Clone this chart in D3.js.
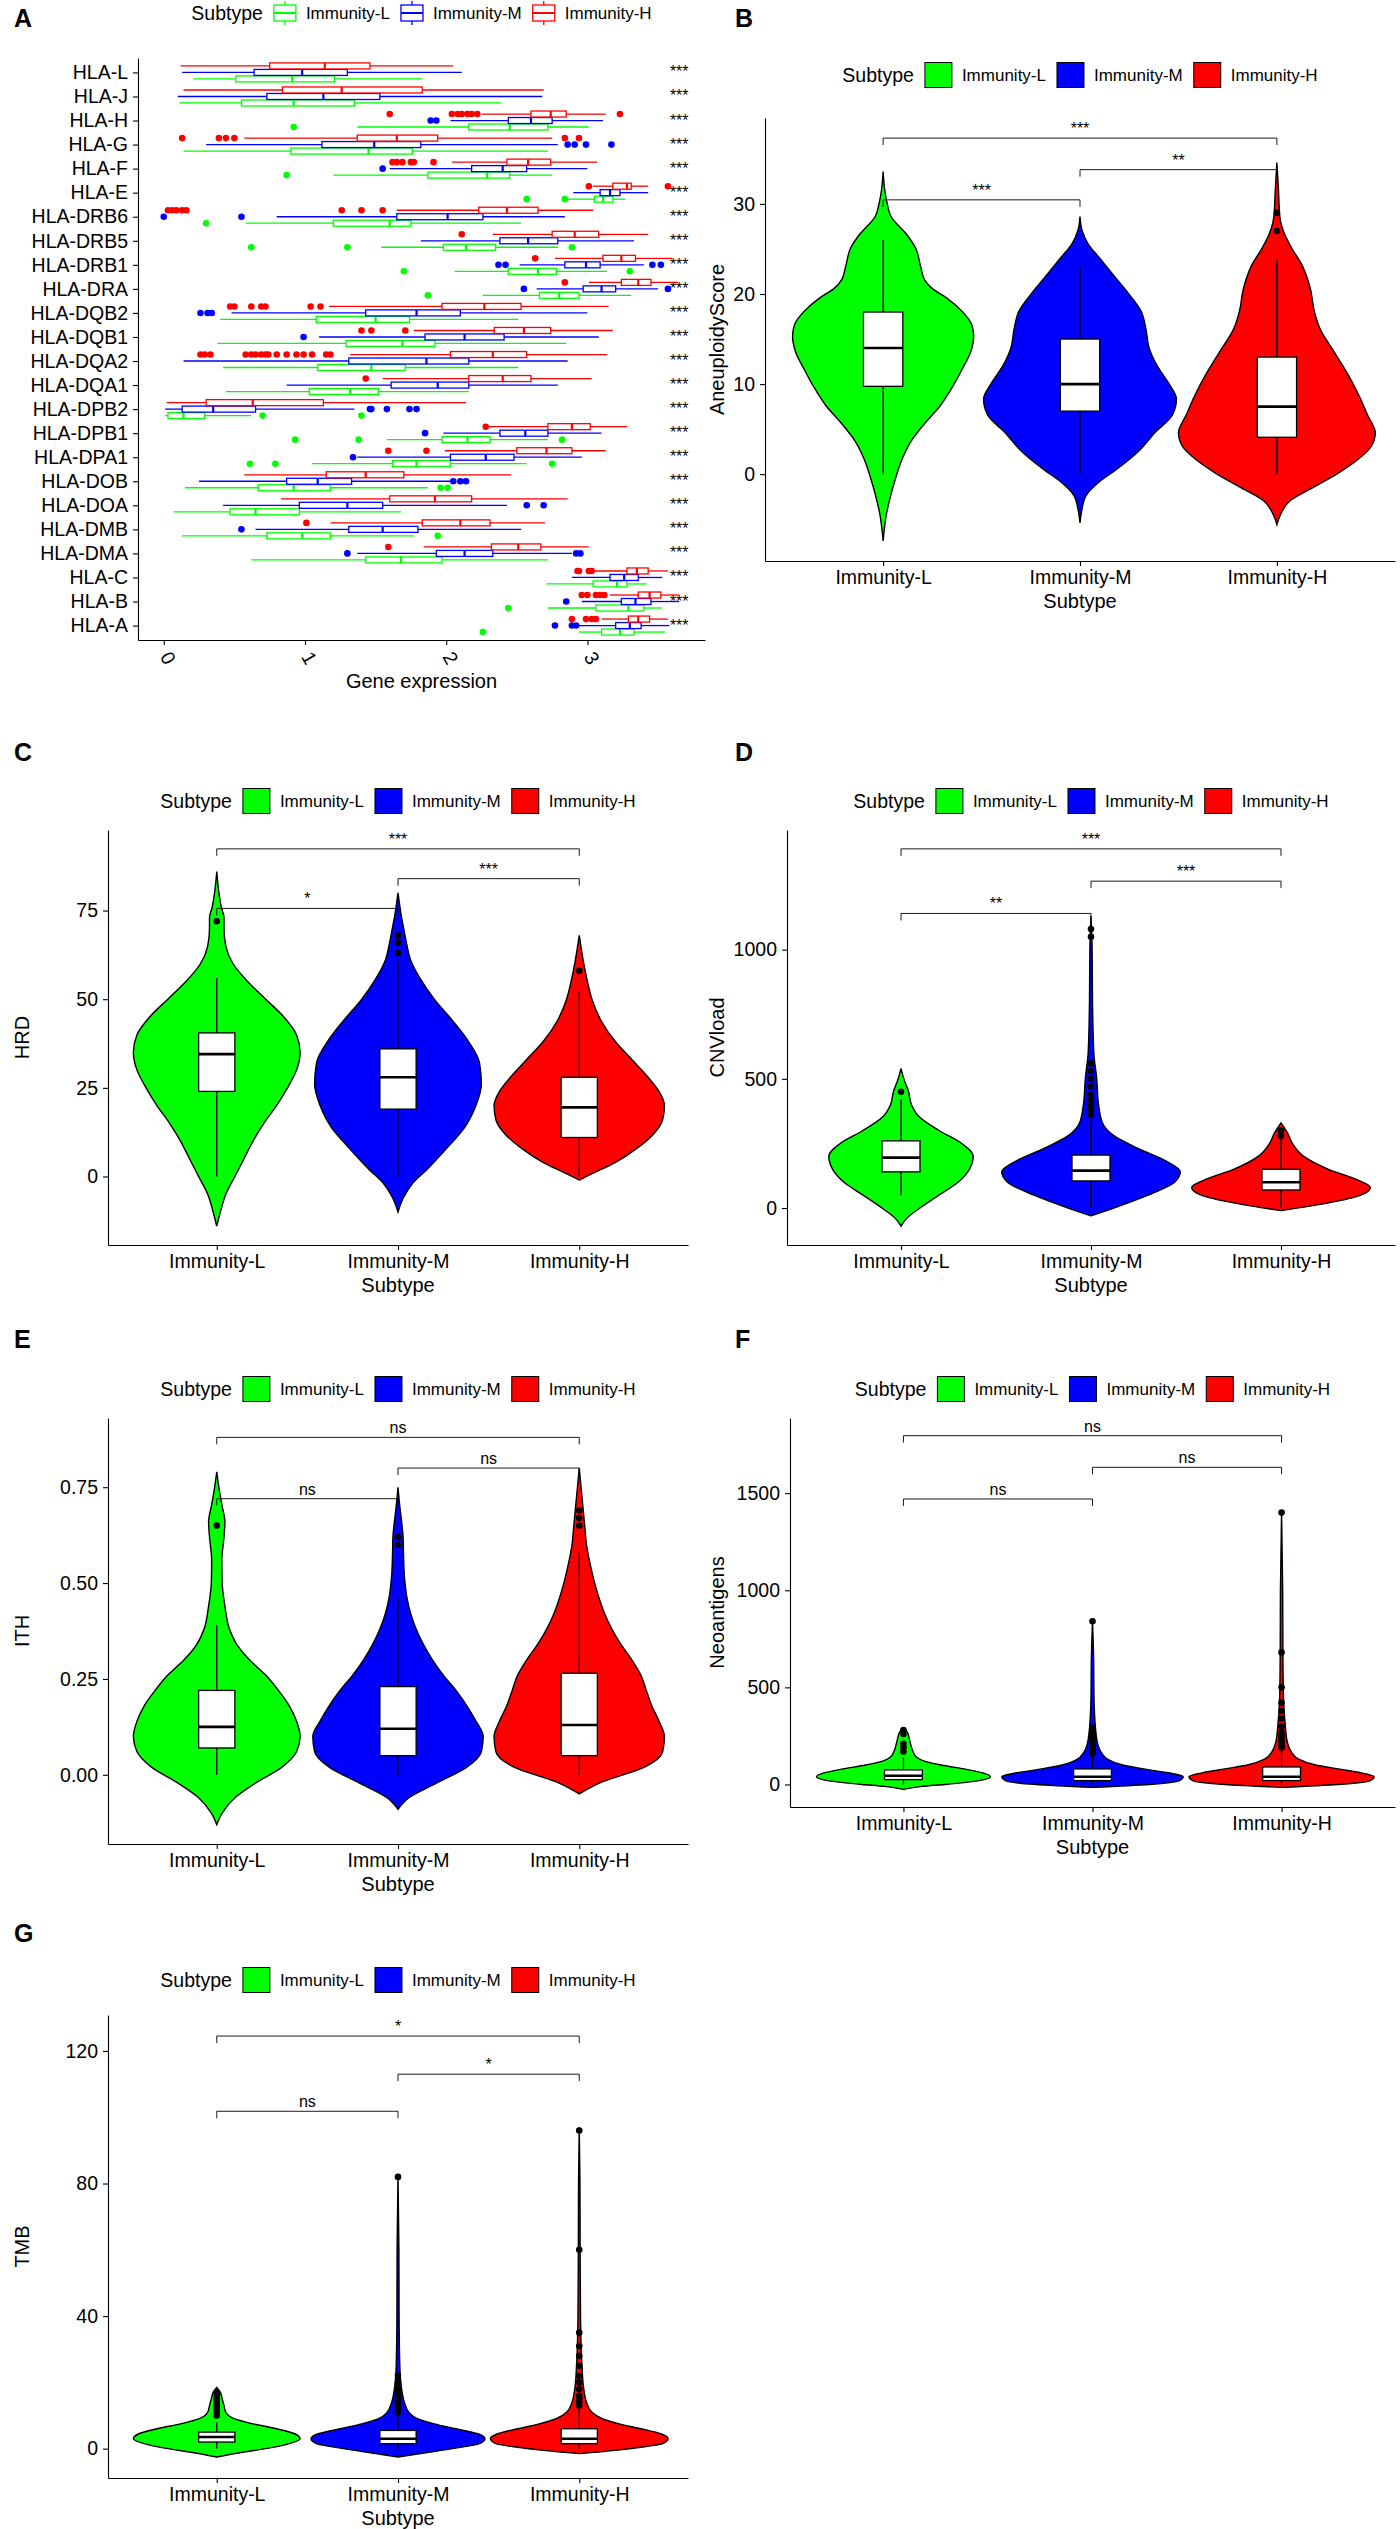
<!DOCTYPE html>
<html>
<head>
<meta charset="utf-8">
<script src="https://cdn.jsdelivr.net/npm/d3@7"></script>
<style>
  body { margin: 0; background: #fff; }
  svg { display: block; font-family: "Liberation Sans", Arial, Helvetica, sans-serif; }
</style>
</head>
<body>
<svg id="fig" width="1400" height="2529"></svg>
<script>
// ---------- shared ----------
const subtypes = ['Immunity-L', 'Immunity-M', 'Immunity-H'];
const subtypeColors = ['#00FF00', '#0000FF', '#FF0000'];
const sigPairs = [[0, 1], [1, 2], [0, 2]];

// ---------- panel A : HLA gene expression (min, q1, median, q3, max) ----------
const hlaGenes = ['HLA-L', 'HLA-J', 'HLA-H', 'HLA-G', 'HLA-F', 'HLA-E', 'HLA-DRB6', 'HLA-DRB5',
  'HLA-DRB1', 'HLA-DRA', 'HLA-DQB2', 'HLA-DQB1', 'HLA-DQA2', 'HLA-DQA1', 'HLA-DPB2', 'HLA-DPB1',
  'HLA-DPA1', 'HLA-DOB', 'HLA-DOA', 'HLA-DMB', 'HLA-DMA', 'HLA-C', 'HLA-B', 'HLA-A'];
const hlaBoxL = [
  [0.21, 0.51, 0.91, 1.21, 1.83], [0.11, 0.55, 0.92, 1.35, 2.39], [1.37, 2.16, 2.45, 2.72, 3.01],
  [0.14, 0.90, 1.45, 1.76, 2.72], [1.20, 1.87, 2.29, 2.45, 2.75], [2.86, 3.05, 3.11, 3.18, 3.27],
  [0.58, 1.20, 1.60, 1.75, 2.53], [1.54, 1.98, 2.14, 2.35, 2.79], [2.06, 2.44, 2.65, 2.78, 3.14],
  [2.26, 2.66, 2.80, 2.94, 3.31], [0.40, 1.08, 1.50, 1.74, 2.51], [0.38, 1.29, 1.69, 1.92, 2.85],
  [0.42, 1.09, 1.47, 1.71, 2.51], [0.44, 1.03, 1.32, 1.52, 2.16], [0.01, 0.03, 0.14, 0.29, 0.62],
  [1.58, 1.97, 2.15, 2.31, 2.72], [1.05, 1.62, 1.79, 2.03, 2.57], [0.15, 0.67, 0.92, 1.18, 1.87],
  [0.07, 0.47, 0.65, 0.96, 1.68], [0.13, 0.73, 0.98, 1.18, 1.77], [0.62, 1.43, 1.68, 1.97, 2.72],
  [2.71, 3.04, 3.21, 3.28, 3.42], [2.72, 3.06, 3.29, 3.40, 3.53], [2.94, 3.10, 3.23, 3.33, 3.55]];
const hlaBoxM = [
  [0.13, 0.64, 0.98, 1.30, 2.11], [0.10, 0.73, 1.13, 1.53, 2.68], [2.03, 2.44, 2.60, 2.75, 3.11],
  [0.30, 1.12, 1.49, 1.82, 2.79], [1.60, 2.18, 2.40, 2.57, 3.00], [2.90, 3.09, 3.16, 3.23, 3.43],
  [0.80, 1.65, 2.01, 2.26, 2.84], [1.82, 2.38, 2.58, 2.79, 3.33], [2.52, 2.84, 2.99, 3.09, 3.40],
  [2.64, 2.97, 3.10, 3.20, 3.50], [0.48, 1.43, 1.79, 2.10, 3.00], [1.10, 1.85, 2.13, 2.41, 3.08],
  [0.14, 1.31, 1.86, 2.16, 2.86], [0.87, 1.61, 1.94, 2.16, 2.79], [0.01, 0.13, 0.35, 0.65, 1.35],
  [1.98, 2.38, 2.56, 2.72, 3.10], [1.37, 2.03, 2.28, 2.48, 2.96], [0.25, 0.87, 1.09, 1.33, 2.04],
  [0.42, 0.96, 1.30, 1.55, 2.43], [0.65, 1.31, 1.55, 1.80, 2.53], [1.37, 1.93, 2.13, 2.33, 2.89],
  [2.89, 3.16, 3.26, 3.36, 3.53], [2.96, 3.24, 3.34, 3.45, 3.65], [2.93, 3.20, 3.30, 3.38, 3.58]];
const hlaBoxH = [
  [0.12, 0.75, 1.14, 1.46, 2.05], [0.14, 0.84, 1.26, 1.83, 2.69], [2.25, 2.60, 2.74, 2.85, 3.13],
  [0.57, 1.37, 1.65, 1.94, 2.75], [2.04, 2.43, 2.58, 2.74, 3.07], [3.04, 3.18, 3.28, 3.31, 3.43],
  [1.65, 2.23, 2.43, 2.65, 3.04], [2.33, 2.75, 2.91, 3.08, 3.43], [2.77, 3.11, 3.24, 3.34, 3.60],
  [3.01, 3.24, 3.36, 3.45, 3.64], [1.17, 1.97, 2.27, 2.53, 3.15], [1.77, 2.34, 2.55, 2.74, 3.18],
  [1.32, 2.03, 2.33, 2.57, 3.14], [1.55, 2.16, 2.40, 2.60, 3.03], [0.02, 0.30, 0.63, 1.13, 2.14],
  [2.30, 2.72, 2.89, 3.02, 3.28], [1.99, 2.50, 2.71, 2.89, 3.13], [0.57, 1.15, 1.43, 1.70, 2.46],
  [0.83, 1.60, 1.92, 2.18, 2.86], [1.18, 1.83, 2.10, 2.31, 2.70], [1.84, 2.32, 2.51, 2.67, 3.01],
  [3.04, 3.28, 3.35, 3.43, 3.57], [3.16, 3.36, 3.44, 3.52, 3.65], [3.10, 3.29, 3.36, 3.44, 3.57]];
const hlaOutL = [
  [], [], [0.92], [], [0.87], [2.57, 2.84], [0.30], [0.62, 1.30, 2.89], [1.70, 3.30], [1.87],
  [], [], [], [], [0.70, 1.40], [0.93, 1.38, 2.82], [0.61, 0.79, 2.75], [1.96, 2.01], [], [1.94],
  [], [], [2.44], [2.26]];
const hlaOutM = [
  [], [], [1.89, 1.93], [2.86, 2.91, 2.99, 3.17], [1.55], [], [0.0, 0.55], [], [2.37, 2.42, 3.46, 3.52],
  [2.55, 3.57], [0.26, 0.31, 0.34], [0.99], [], [], [1.46, 1.47, 1.58, 1.74, 1.79], [1.85], [1.34],
  [2.05, 2.10, 2.14], [2.57, 2.69], [0.55], [1.30, 2.92, 2.95], [], [2.85], [2.77, 2.89, 2.92]];
const hlaOutH = [
  [], [], [1.60, 2.04, 2.08, 2.11, 2.15, 2.18, 2.22, 3.23], [0.13, 0.39, 0.44, 0.50, 2.84, 2.94],
  [1.62, 1.65, 1.69, 1.75, 1.77, 1.91], [3.01, 3.57], [0.03, 0.06, 0.09, 0.13, 0.16, 1.26, 1.40, 1.55],
  [2.11], [2.63], [2.84], [0.47, 0.50, 0.62, 0.69, 0.72, 1.04, 1.11], [1.40, 1.47, 1.71],
  [0.26, 0.29, 0.33, 0.58, 0.62, 0.65, 0.69, 0.72, 0.74, 0.80, 0.87, 0.94, 0.99, 1.05, 1.15, 1.18],
  [1.43], [], [2.28], [1.59, 1.86], [], [], [1.01], [1.59], [2.93, 2.94, 3.01, 3.03],
  [2.96, 3.00, 3.06, 3.09, 3.12], [2.89, 2.99, 3.03, 3.06]];
const hlaTicks = [0, 1, 2, 3];
const hlaSig = ['***', '***', '***', '***', '***', '***', '***', '***', '***', '***', '***', '***',
  '***', '***', '***', '***', '***', '***', '***', '***', '***', '***', '***', '***'];
const hlaSigX = 3.65;

// ---------- panel B : AneuploidyScore  (violins: [value, half width]) ----------
const aneuVioL = [[-7.4, 0], [-4.4, 0.017], [-2.4, 0.038], [-0.4, 0.064], [1.6, 0.095], [3.6, 0.14],
  [5.6, 0.21], [7.6, 0.29], [9.6, 0.35], [11.6, 0.40], [13.6, 0.445], [15.35, 0.46], [16.6, 0.45],
  [18.1, 0.40], [19.6, 0.32], [20.6, 0.25], [21.6, 0.21], [23.1, 0.19], [25.1, 0.165], [26.6, 0.12],
  [28.6, 0.04], [30.1, 0.02], [31.6, 0.008], [33.6, 0]];
const aneuVioM = [[-5.4, 0], [-3.9, 0.01], [-2.4, 0.03], [-0.9, 0.095], [0.6, 0.19], [2.6, 0.30],
  [4.6, 0.38], [6.6, 0.47], [8.35, 0.49], [10.1, 0.45], [12.1, 0.39], [14.1, 0.35], [16.1, 0.335],
  [18.1, 0.31], [20.1, 0.245], [22.1, 0.17], [24.1, 0.095], [25.6, 0.04], [27.1, 0.01], [28.6, 0]];
const aneuVioH = [[-5.6, 0], [-4.4, 0.02], [-2.9, 0.07], [-1.4, 0.19], [0.1, 0.31], [1.6, 0.41],
  [3.1, 0.48], [4.6, 0.50], [6.6, 0.46], [8.6, 0.42], [11.1, 0.36], [13.6, 0.29], [16.1, 0.22],
  [18.1, 0.19], [20.6, 0.17], [23.1, 0.13], [25.1, 0.075], [26.6, 0.04], [28.6, 0.015], [31.6, 0.008],
  [34.6, 0]];
const aneuBox = [[0, 9.75, 14, 18, 26], [0, 7, 10, 15, 23], [0, 4.1, 7.5, 13, 23.85]];
const aneuOut = [[], [], [27, 29]];
const aneuTicks = [0, 10, 20, 30];
const aneuSigY = [30.45, 33.8, 37.3];
const aneuSigLab = ['***', '**', '***'];

// ---------- panel C : HRD ----------
const hrdVioL = [[-14, 0], [-10, 0.02], [-5, 0.05], [0, 0.1], [5, 0.15], [10, 0.2], [15, 0.26],
  [20, 0.33], [25, 0.39], [30, 0.44], [35, 0.46], [40, 0.44], [45, 0.37], [50, 0.27], [55, 0.17],
  [60, 0.09], [65, 0.05], [70, 0.04], [73, 0.04], [76, 0.025], [80, 0.012], [86, 0]];
const hrdVioM = [[-10, 0], [-6, 0.03], [-2, 0.08], [2, 0.16], [8, 0.27], [14, 0.37], [20, 0.43],
  [26, 0.46], [32, 0.45], [38, 0.39], [44, 0.30], [50, 0.20], [56, 0.12], [61, 0.07], [65, 0.05],
  [69, 0.035], [73, 0.02], [80, 0]];
const hrdVioH = [[-1, 0], [1, 0.08], [4, 0.2], [8, 0.32], [12, 0.41], [16, 0.46], [20, 0.47],
  [24, 0.44], [28, 0.38], [33, 0.29], [38, 0.2], [44, 0.12], [50, 0.07], [55, 0.045], [60, 0.025],
  [64, 0.012], [68, 0]];
const hrdBox = [[0, 24, 34.5, 40.5, 56], [0, 19, 28, 36, 61], [0, 11, 19.5, 28, 52]];
const hrdOut = [[72], [63, 66, 68], [58]];
const hrdTicks = [0, 25, 50, 75];
const hrdSigY = [75.6, 84, 92.4];
const hrdSigLab = ['*', '***', '***'];

// ---------- panel D : CNVload ----------
const cnvVioL = [[-70, 0], [-40, 0.03], [0, 0.1], [50, 0.2], [100, 0.3], [150, 0.36], [200, 0.38],
  [250, 0.32], [300, 0.2], [350, 0.1], [400, 0.055], [450, 0.04], [500, 0.015], [540, 0]];
const cnvVioM = [[-30, 0], [0, 0.12], [50, 0.3], [100, 0.44], [140, 0.47], [180, 0.4], [230, 0.25],
  [280, 0.12], [330, 0.06], [400, 0.04], [500, 0.03], [600, 0.015], [800, 0.008], [1000, 0.006],
  [1130, 0]];
const cnvVioH = [[-10, 0], [20, 0.25], [50, 0.42], [80, 0.47], [110, 0.4], [150, 0.25], [200, 0.12],
  [250, 0.06], [290, 0.035], [330, 0]];
const cnvBox = [[50, 140, 195, 260, 420], [0, 105, 145, 205, 340], [0, 70, 100, 150, 270]];
const cnvOut = [[450], [360, 380, 400, 420, 440, 470, 500, 530, 560, 1050, 1080], [280, 300]];
const cnvTicks = [0, 500, 1000];
const cnvSigY = [1140, 1265, 1390];
const cnvSigLab = ['**', '***', '***'];

// ---------- panel E : ITH ----------
const ithVioL = [[-0.13, 0], [-0.1, 0.03], [-0.06, 0.1], [-0.02, 0.22], [0.02, 0.36], [0.06, 0.44],
  [0.1, 0.46], [0.14, 0.44], [0.18, 0.4], [0.22, 0.34], [0.26, 0.27], [0.3, 0.18], [0.34, 0.11],
  [0.38, 0.07], [0.44, 0.045], [0.5, 0.03], [0.56, 0.028], [0.62, 0.04], [0.66, 0.045], [0.7, 0.03],
  [0.74, 0.015], [0.79, 0]];
const ithVioM = [[-0.09, 0], [-0.06, 0.06], [-0.02, 0.22], [0.02, 0.38], [0.06, 0.46], [0.1, 0.47],
  [0.14, 0.43], [0.18, 0.38], [0.22, 0.32], [0.26, 0.25], [0.3, 0.19], [0.34, 0.14], [0.38, 0.1],
  [0.42, 0.07], [0.46, 0.05], [0.52, 0.035], [0.58, 0.03], [0.62, 0.028], [0.66, 0.02], [0.7, 0.01],
  [0.75, 0]];
const ithVioH = [[-0.05, 0], [-0.02, 0.12], [0.02, 0.36], [0.06, 0.46], [0.1, 0.47], [0.14, 0.44],
  [0.18, 0.4], [0.22, 0.37], [0.26, 0.34], [0.3, 0.29], [0.34, 0.23], [0.38, 0.18], [0.42, 0.14],
  [0.46, 0.11], [0.5, 0.085], [0.55, 0.06], [0.6, 0.04], [0.65, 0.03], [0.7, 0.02], [0.75, 0.01],
  [0.8, 0]];
const ithBox = [[0, 0.07, 0.125, 0.22, 0.39], [0, 0.05, 0.12, 0.23, 0.46], [0, 0.05, 0.13, 0.265, 0.58]];
const ithOut = [[0.65], [0.6, 0.62], [0.65, 0.67, 0.69]];
const ithTicks = [0, 0.25, 0.5, 0.75];
const ithSigY = [0.72, 0.80, 0.88];
const ithSigLab = ['ns', 'ns', 'ns'];

// ---------- panel F : Neoantigens ----------
const neoVioL = [[-25, 0], [-10, 0.1], [0, 0.22], [20, 0.4], [40, 0.46], [60, 0.42], [80, 0.32],
  [100, 0.2], [120, 0.11], [140, 0.07], [170, 0.05], [200, 0.04], [240, 0.03], [270, 0.02], [290, 0]];
const neoVioM = [[-15, 0], [0, 0.3], [20, 0.46], [40, 0.48], [60, 0.4], [80, 0.27], [100, 0.16],
  [130, 0.08], [160, 0.05], [200, 0.03], [300, 0.015], [450, 0.008], [650, 0.006], [840, 0]];
const neoVioH = [[-15, 0], [0, 0.3], [20, 0.47], [40, 0.49], [60, 0.42], [80, 0.3], [100, 0.18],
  [130, 0.09], [170, 0.05], [220, 0.03], [300, 0.02], [450, 0.01], [700, 0.007], [1000, 0.006], [1400, 0]];
const neoBox = [[0, 25, 45, 75, 140], [0, 20, 40, 80, 150], [0, 20, 40, 90, 180]];
const neoOut = [[170, 190, 210, 260, 280],
  [160, 170, 180, 190, 200, 215, 230, 250, 270, 290, 840],
  [190, 200, 215, 230, 250, 270, 300, 340, 380, 420, 500, 680, 1400]];
const neoTicks = [0, 500, 1000, 1500];
const neoSigY = [1470, 1633, 1796];
const neoSigLab = ['ns', 'ns', 'ns'];

// ---------- panel G : TMB ----------
const tmbVioL = [[-2.5, 0], [-1, 0.15], [0, 0.27], [1.5, 0.4], [3, 0.46], [4.5, 0.43], [6, 0.33],
  [7.5, 0.2], [9, 0.1], [11, 0.05], [13, 0.04], [15, 0.03], [17, 0.02], [18.5, 0]];
const tmbVioM = [[-2.5, 0], [-1, 0.18], [0, 0.3], [1.5, 0.45], [3, 0.48], [4.5, 0.44], [6, 0.32],
  [7.5, 0.2], [9, 0.11], [11, 0.06], [14, 0.035], [18, 0.02], [25, 0.01], [40, 0.006], [60, 0.005], [82, 0]];
const tmbVioH = [[-1.5, 0], [-0.5, 0.2], [0.5, 0.35], [1.5, 0.46], [3, 0.49], [4.5, 0.45], [6, 0.34],
  [7.5, 0.22], [9, 0.13], [11, 0.07], [14, 0.04], [18, 0.025], [25, 0.015], [40, 0.007], [60, 0.005],
  [80, 0.004], [97, 0]];
const tmbBox = [[0, 2, 3.5, 5, 8], [0, 1.5, 3, 5.5, 10], [0, 1.5, 3, 6, 12]];
const tmbOut = [[10, 11, 12, 13, 14, 15, 16, 17],
  [11, 12, 13, 14, 15, 16, 17, 18, 20, 22, 82],
  [13, 14, 15, 16, 18, 20, 22, 25, 28, 31, 35, 60, 96]];
const tmbTicks = [0, 40, 80, 120];
const tmbSigY = [101.8, 113, 124.5];
const tmbSigLab = ['ns', '*', '*'];

// ---------- drawing ----------
const svg = d3.select('#fig');
const tickFont = 19.5, titleFont = 20, legTitleFont = 19.5, legFont = 17, sigFont = 16;

function styleAxis(sel, fontSize) {
    sel.attr('font-family', null).attr('font-size', null);
    sel.select('.domain').attr('stroke', '#000').attr('stroke-width', 1.1);
    sel.selectAll('.tick line').attr('stroke', '#000').attr('stroke-width', 1.1);
    sel.selectAll('.tick text').attr('fill', '#000').attr('font-size', fontSize);
}

function panelLabel(txt, x, y) {
    svg.append('text')
        .attr('x', x).attr('y', y)
        .attr('font-size', 25).attr('font-weight', 'bold')
        .text(txt);
}

function drawLegend(cx, cy, keyW, drawKey) {
    const g = svg.append('g');
    const title = g.append('text')
        .attr('x', 0).attr('y', cy)
        .attr('dominant-baseline', 'central')
        .attr('font-size', legTitleFont)
        .text('Subtype');
    let pos = title.node().getComputedTextLength() + 11;
    subtypes.forEach((s, i) => {
        drawKey(g, pos, cy, i);
        pos += keyW + 10;
        const t = g.append('text')
            .attr('x', pos).attr('y', cy)
            .attr('dominant-baseline', 'central')
            .attr('font-size', legFont)
            .text(s);
        pos += t.node().getComputedTextLength() + (i < subtypes.length - 1 ? 11 : 0);
    });
    g.attr('transform', `translate(${cx - pos / 2},0)`);
}

function boxKey(g, x, cy, i) {
    const c = subtypeColors[i];
    g.append('line').attr('x1', x + 11).attr('x2', x + 11).attr('y1', cy - 12).attr('y2', cy - 8)
        .attr('stroke', c).attr('stroke-width', 1.3);
    g.append('line').attr('x1', x + 11).attr('x2', x + 11).attr('y1', cy + 8).attr('y2', cy + 12)
        .attr('stroke', c).attr('stroke-width', 1.3);
    g.append('rect').attr('x', x).attr('y', cy - 8).attr('width', 22).attr('height', 16)
        .attr('fill', '#fff').attr('stroke', c).attr('stroke-width', 1.3);
    g.append('line').attr('x1', x).attr('x2', x + 22).attr('y1', cy).attr('y2', cy)
        .attr('stroke', c).attr('stroke-width', 2);
}

function fillKey(g, x, cy, i) {
    g.append('rect').attr('x', x).attr('y', cy - 12.5).attr('width', 27).attr('height', 25)
        .attr('fill', subtypeColors[i]).attr('stroke', '#000').attr('stroke-width', 1);
}

function drawPanelA() {
    const left = 138, right = 705, top = 58, bottom = 640;
    const boxes = [hlaBoxL, hlaBoxM, hlaBoxH];
    const outs = [hlaOutL, hlaOutM, hlaOutH];
    const allVals = boxes.flat(2).concat(outs.flat(2), [hlaSigX]);
    const lo = d3.min(allVals), hi = d3.max(allVals), pad = (hi - lo) * 0.05;

    const x = d3.scaleLinear().domain([lo - pad, hi + pad]).range([left, right]);
    const y = d3.scalePoint().domain(hlaGenes).range([top, bottom]).padding(0.6);
    const step = y.step();
    const dodge = [0.27, 0, -0.27];
    const bh = 0.25 * step;

    const g = svg.append('g');
    boxes.forEach((bx, s) => {
        const col = subtypeColors[s];
        const gs = g.append('g');
        bx.forEach((b, i) => {
            const cy = y(hlaGenes[i]) + dodge[s] * step;
            gs.append('line').attr('x1', x(b[0])).attr('x2', x(b[1])).attr('y1', cy).attr('y2', cy)
                .attr('stroke', col).attr('stroke-width', 1.3);
            gs.append('line').attr('x1', x(b[3])).attr('x2', x(b[4])).attr('y1', cy).attr('y2', cy)
                .attr('stroke', col).attr('stroke-width', 1.3);
            gs.append('rect')
                .attr('x', x(b[1])).attr('y', cy - bh / 2)
                .attr('width', x(b[3]) - x(b[1])).attr('height', bh)
                .attr('fill', '#fff').attr('stroke', col).attr('stroke-width', 1.3);
            gs.append('line').attr('x1', x(b[2])).attr('x2', x(b[2]))
                .attr('y1', cy - bh / 2).attr('y2', cy + bh / 2)
                .attr('stroke', col).attr('stroke-width', 2.2);
            gs.selectAll(null).data(outs[s][i]).enter().append('circle')
                .attr('cx', d => x(d)).attr('cy', cy).attr('r', 3.3)
                .attr('fill', col);
        });
    });

    g.selectAll('.star').data(hlaSig).enter().append('text')
        .attr('class', 'star')
        .attr('x', x(hlaSigX)).attr('y', (d, i) => y(hlaGenes[i]) + 5)
        .attr('text-anchor', 'middle').attr('font-size', sigFont)
        .text(d => d);

    const ya = g.append('g').attr('transform', `translate(${left},0)`)
        .call(d3.axisLeft(y).tickSize(5).tickPadding(5).tickSizeOuter(0));
    styleAxis(ya, tickFont);

    const xa = g.append('g').attr('transform', `translate(0,${bottom})`)
        .call(d3.axisBottom(x).tickValues(hlaTicks).tickFormat(d3.format('d')).tickSize(5).tickSizeOuter(0));
    styleAxis(xa, tickFont);
    xa.selectAll('.tick text')
        .attr('y', 0).attr('dy', null)
        .attr('text-anchor', 'middle').attr('dominant-baseline', 'central')
        .attr('transform', 'translate(4,18) rotate(60)');

    g.append('text')
        .attr('x', (left + right) / 2).attr('y', 688)
        .attr('text-anchor', 'middle').attr('font-size', titleFont)
        .text('Gene expression');

    panelLabel('A', 14, 27);
    drawLegend((left + right) / 2, 13, 22, boxKey);
}

function drawViolinPanel(p) {
    const allVio = p.vio.flat();
    const vmin = d3.min(allVio, d => d[0]);
    const vmax = d3.max(p.sigY);
    const pad = (vmax - vmin) * 0.05;
    const y = d3.scaleLinear().domain([vmin - pad, vmax + pad]).range([p.bottom, p.top]);
    const x = d3.scalePoint().domain(subtypes).range([p.left, p.right]).padding(0.6);
    const step = x.step();
    const g = svg.append('g');

    p.vio.forEach((v, i) => {
        const cx = x(subtypes[i]);
        const area = d3.area()
            .curve(d3.curveMonotoneY)
            .y(d => y(d[0]))
            .x0(d => cx - d[1] * step)
            .x1(d => cx + d[1] * step);
        g.append('path').datum(v)
            .attr('d', area)
            .attr('fill', subtypeColors[i])
            .attr('stroke', '#000').attr('stroke-width', 1.4);
    });

    const bw = 0.2 * step;
    p.box.forEach((b, i) => {
        const cx = x(subtypes[i]);
        g.append('line').attr('x1', cx).attr('x2', cx).attr('y1', y(b[0])).attr('y2', y(b[4]))
            .attr('stroke', '#000').attr('stroke-width', 1.3);
        g.append('rect')
            .attr('x', cx - bw / 2).attr('y', y(b[3]))
            .attr('width', bw).attr('height', y(b[1]) - y(b[3]))
            .attr('fill', '#fff').attr('stroke', '#000').attr('stroke-width', 1.3);
        g.append('line').attr('x1', cx - bw / 2).attr('x2', cx + bw / 2)
            .attr('y1', y(b[2])).attr('y2', y(b[2]))
            .attr('stroke', '#000').attr('stroke-width', 2.6);
        g.selectAll(null).data(p.out[i]).enter().append('circle')
            .attr('cx', cx).attr('cy', d => y(d)).attr('r', 3.3)
            .attr('fill', '#000');
    });

    sigPairs.forEach((pr, k) => {
        const x1 = x(subtypes[pr[0]]), x2 = x(subtypes[pr[1]]);
        const yy = y(p.sigY[k]);
        g.append('path')
            .attr('d', `M${x1},${yy + 7}V${yy}H${x2}V${yy + 7}`)
            .attr('fill', 'none').attr('stroke', '#000').attr('stroke-width', 0.9);
        g.append('text')
            .attr('x', (x1 + x2) / 2).attr('y', yy - 4)
            .attr('text-anchor', 'middle').attr('font-size', sigFont)
            .text(p.sigLab[k]);
    });

    const ya = g.append('g').attr('transform', `translate(${p.left},0)`)
        .call(d3.axisLeft(y).tickValues(p.ticks).tickFormat(p.fmt).tickSize(5).tickPadding(5).tickSizeOuter(0));
    styleAxis(ya, tickFont);

    const xa = g.append('g').attr('transform', `translate(0,${p.bottom})`)
        .call(d3.axisBottom(x).tickSize(5).tickPadding(4).tickSizeOuter(0));
    styleAxis(xa, tickFont);

    g.append('text')
        .attr('x', (p.left + p.right) / 2).attr('y', p.bottom + 47)
        .attr('text-anchor', 'middle').attr('font-size', titleFont)
        .text('Subtype');

    g.append('text')
        .attr('transform', `translate(${p.yTitleX},${(p.top + p.bottom) / 2}) rotate(-90)`)
        .attr('text-anchor', 'middle').attr('dominant-baseline', 'central')
        .attr('font-size', titleFont)
        .text(p.yTitle);

    panelLabel(p.label, p.lx, p.ly);
    drawLegend((p.left + p.right) / 2, p.legendY, 27, fillKey);
}

drawPanelA();

drawViolinPanel({
    label: 'B', lx: 735, ly: 27, legendY: 75,
    left: 765, right: 1395, top: 118, bottom: 561, yTitleX: 717,
    yTitle: 'AneuploidyScore', ticks: aneuTicks, fmt: d3.format('d'),
    vio: [aneuVioL, aneuVioM, aneuVioH], box: aneuBox, out: aneuOut,
    sigY: aneuSigY, sigLab: aneuSigLab
});
drawViolinPanel({
    label: 'C', lx: 14, ly: 761, legendY: 801,
    left: 108, right: 688, top: 830, bottom: 1245, yTitleX: 22,
    yTitle: 'HRD', ticks: hrdTicks, fmt: d3.format('d'),
    vio: [hrdVioL, hrdVioM, hrdVioH], box: hrdBox, out: hrdOut,
    sigY: hrdSigY, sigLab: hrdSigLab
});
drawViolinPanel({
    label: 'D', lx: 735, ly: 761, legendY: 801,
    left: 787, right: 1395, top: 830, bottom: 1245, yTitleX: 717,
    yTitle: 'CNVload', ticks: cnvTicks, fmt: d3.format('d'),
    vio: [cnvVioL, cnvVioM, cnvVioH], box: cnvBox, out: cnvOut,
    sigY: cnvSigY, sigLab: cnvSigLab
});
drawViolinPanel({
    label: 'E', lx: 14, ly: 1348, legendY: 1389,
    left: 108, right: 688, top: 1418, bottom: 1844, yTitleX: 22,
    yTitle: 'ITH', ticks: ithTicks, fmt: d3.format('.2f'),
    vio: [ithVioL, ithVioM, ithVioH], box: ithBox, out: ithOut,
    sigY: ithSigY, sigLab: ithSigLab
});
drawViolinPanel({
    label: 'F', lx: 735, ly: 1348, legendY: 1389,
    left: 790, right: 1395, top: 1418, bottom: 1807, yTitleX: 717,
    yTitle: 'Neoantigens', ticks: neoTicks, fmt: d3.format('d'),
    vio: [neoVioL, neoVioM, neoVioH], box: neoBox, out: neoOut,
    sigY: neoSigY, sigLab: neoSigLab
});
drawViolinPanel({
    label: 'G', lx: 14, ly: 1942, legendY: 1980,
    left: 108, right: 688, top: 2015, bottom: 2478, yTitleX: 22,
    yTitle: 'TMB', ticks: tmbTicks, fmt: d3.format('d'),
    vio: [tmbVioL, tmbVioM, tmbVioH], box: tmbBox, out: tmbOut,
    sigY: tmbSigY, sigLab: tmbSigLab
});
</script>
</body>
</html>
